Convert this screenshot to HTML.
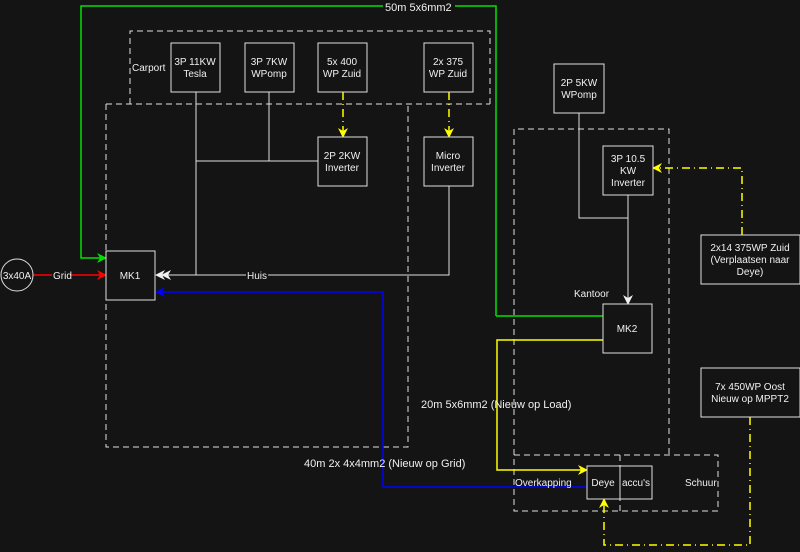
<!DOCTYPE html>
<html><head><meta charset="utf-8"><style>
html,body{margin:0;padding:0;background:#141414;}
svg{display:block;font-family:"Liberation Sans",sans-serif;}
</style></head><body>
<svg width="800" height="552" viewBox="0 0 800 552" xmlns="http://www.w3.org/2000/svg">
<rect width="800" height="552" fill="#141414"/>
<defs>
<marker id="aw" markerWidth="10" markerHeight="10" refX="9" refY="5" orient="auto" markerUnits="userSpaceOnUse"><path d="M0,0 L10,5 L0,10 L3,5 Z" fill="#f0f0f0"/></marker>
<marker id="ag" markerWidth="10" markerHeight="10" refX="9" refY="5" orient="auto" markerUnits="userSpaceOnUse"><path d="M0,0 L10,5 L0,10 L3,5 Z" fill="#00e000"/></marker>
<marker id="ar" markerWidth="10" markerHeight="10" refX="9" refY="5" orient="auto" markerUnits="userSpaceOnUse"><path d="M0,0 L10,5 L0,10 L3,5 Z" fill="#ff0000"/></marker>
<marker id="ab" markerWidth="10" markerHeight="10" refX="9" refY="5" orient="auto" markerUnits="userSpaceOnUse"><path d="M0,0 L10,5 L0,10 L3,5 Z" fill="#0000ff"/></marker>
<marker id="ay" markerWidth="10" markerHeight="10" refX="9" refY="5" orient="auto" markerUnits="userSpaceOnUse"><path d="M0,0 L10,5 L0,10 L3,5 Z" fill="#ffff00"/></marker>
</defs>
<g fill="none" stroke="#e0e0e0" stroke-width="1" stroke-dasharray="6,4">
<path d="M130,104 V31 H490 V104"/>
<path d="M106,104 H490 M106,104 V447 H408 V104"/>
<path d="M514,455 V129 H669 V455"/>
<rect x="514" y="455" width="204" height="56"/>
<path d="M620,455 V511"/>
</g>
<!-- white connectors -->
<g fill="none" stroke="#e0e0e0" stroke-width="1">
<path d="M196,92 V275"/>
<path d="M269,92 V161"/>
<path d="M196,161 H318"/>
<path d="M449,186 V275 H156" marker-end="url(#aw)"/>
<path d="M168,275 H162" marker-end="url(#aw)"/>
<path d="M579,113 V218 H628"/>
<path d="M628,195 V304" marker-end="url(#aw)"/>
</g>
<path d="M496,316 H603 M496,316 V6 H81 V258 H106" fill="none" stroke="#00e000" stroke-width="1.5" marker-end="url(#ag)"/>
<path d="M33,275 H106" stroke="#ff0000" stroke-width="1.5" marker-end="url(#ar)"/>
<path d="M587,487 H383 V292 H156" fill="none" stroke="#0000ff" stroke-width="1.5" marker-end="url(#ab)"/>
<path d="M603,340 H497 V470 H587" fill="none" stroke="#ffff00" stroke-width="1.5" marker-end="url(#ay)"/>
<g fill="none" stroke="#ffff00" stroke-width="1.5">
<path d="M343,92 V137" stroke-dasharray="8,4,1,4" marker-end="url(#ay)"/>
<path d="M449,92 V137" stroke-dasharray="8,4,1,4" marker-end="url(#ay)"/>
<path d="M742,235 V168 H653" stroke-dasharray="8,4,1,4" marker-end="url(#ay)"/>
<path d="M750,417 V545 H604 V499" stroke-dasharray="8,4,1,4" marker-end="url(#ay)"/>
</g>
<g fill="#141414" stroke="#e0e0e0" stroke-width="1">
<rect x="171" y="43" width="49" height="49"/>
<rect x="245" y="43" width="49" height="49"/>
<rect x="318" y="43" width="49" height="49"/>
<rect x="424" y="43" width="49" height="49"/>
<rect x="318" y="137" width="49" height="49"/>
<rect x="424" y="137" width="49" height="49"/>
<rect x="106" y="251" width="49" height="49"/>
<circle cx="17" cy="275" r="16"/>
<rect x="554" y="64" width="50" height="49"/>
<rect x="603" y="146" width="50" height="49"/>
<rect x="603" y="304" width="49" height="49"/>
<rect x="701" y="235" width="99" height="49"/>
<rect x="701" y="368" width="99" height="49"/>
<rect x="587" y="466" width="65" height="33"/>
<path d="M620,466 V499"/>
</g>
<g fill="#f0f0f0" font-size="10" text-anchor="middle">
<text x="195" y="65">3P 11KW</text><text x="195" y="77">Tesla</text>
<text x="269" y="65">3P 7KW</text><text x="269" y="77">WPomp</text>
<text x="342" y="65">5x 400</text><text x="342" y="77">WP Zuid</text>
<text x="448" y="65">2x 375</text><text x="448" y="77">WP Zuid</text>
<text x="342" y="159">2P 2KW</text><text x="342" y="171">Inverter</text>
<text x="448" y="159">Micro</text><text x="448" y="171">Inverter</text>
<text x="130" y="279">MK1</text>
<text x="17" y="279">3x40A</text>
<text x="579" y="86">2P 5KW</text><text x="579" y="98">WPomp</text>
<text x="628" y="162">3P 10.5</text><text x="628" y="174">KW</text><text x="628" y="186">Inverter</text>
<text x="627" y="332">MK2</text>
<text x="750" y="251">2x14 375WP Zuid</text><text x="750" y="263">(Verplaatsen naar</text><text x="750" y="275">Deye)</text>
<text x="750" y="390">7x 450WP Oost</text><text x="750" y="402">Nieuw op MPPT2</text>
<text x="603" y="486">Deye</text>
<text x="636" y="486">accu's</text>
</g>
<g fill="#f0f0f0" font-size="10">
<text x="132" y="71">Carport</text>
<text x="574" y="297">Kantoor</text>
<text x="515" y="486">Overkapping</text>
<text x="685" y="486">Schuur</text>
<rect x="52" y="269" width="18" height="12" fill="#141414"/>
<text x="53" y="279">Grid</text>
<rect x="246" y="269" width="22" height="12" fill="#141414"/>
<text x="247" y="279">Huis</text>
</g>
<g fill="#f0f0f0" font-size="11">
<rect x="383" y="1" width="72" height="12" fill="#141414"/>
<text x="385" y="11">50m 5x6mm2</text>
<text x="421" y="408">20m 5x6mm2 (Nieuw op Load)</text>
<text x="304" y="467">40m 2x 4x4mm2 (Nieuw op Grid)</text>
</g>
</svg>
</body></html>
